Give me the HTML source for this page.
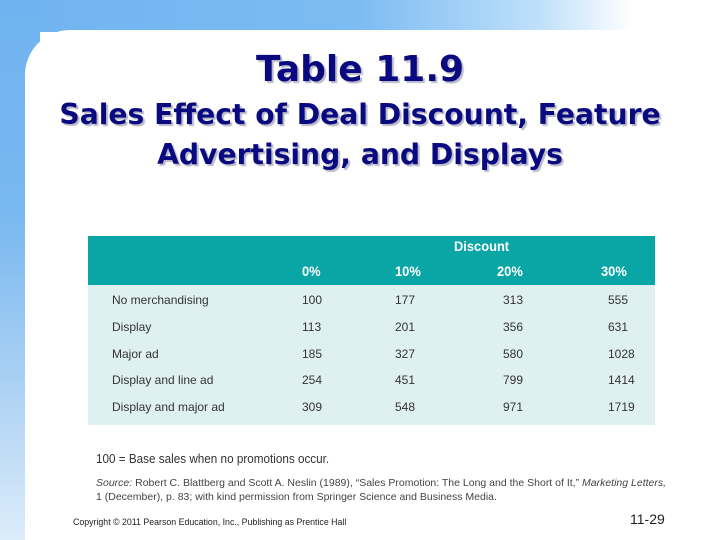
<!DOCTYPE html>
<html><head><meta charset="utf-8"><style>
body{margin:0;width:720px;height:540px;overflow:hidden;position:relative;background:#fff;font-family:"Liberation Sans",sans-serif}
.abs{position:absolute}
#topband{left:0;top:0;width:720px;height:32px;background:linear-gradient(90deg,#6fb3f0 0%,#7dbcf2 50%,#bfe0fa 75%,#fff 88%)}
#leftband{left:0;top:0;width:40px;height:540px;background:linear-gradient(180deg,#6fb3f0 0%,#79b8f0 40%,#a9d0f3 70%,#dcecfa 100%)}
#panel{left:25px;top:30px;width:695px;height:510px;background:#fff;border-top-left-radius:45px}
.title{left:0;width:720px;text-align:center;font-family:"DejaVu Sans",sans-serif;font-weight:bold;color:#0a0a80;text-shadow:2px 2px 1px #b8b8c8}
.t{font-family:"Liberation Sans",sans-serif;font-size:12px;color:#333;white-space:nowrap}
.s{transform:scaleX(0.9);transform-origin:0 0}
.h{font-family:"Liberation Sans",sans-serif;font-size:14px;color:#fff;font-weight:bold;transform:scaleX(0.92);transform-origin:0 0}
</style></head><body>
<div id="topband" class="abs"></div>
<div id="leftband" class="abs"></div>
<div id="panel" class="abs"></div>
<div class="abs title" style="top:49px;font-size:36px">Table 11.9</div>
<div class="abs title" style="top:95px;font-size:28.2px;line-height:40px">Sales Effect of Deal Discount, Feature<br>Advertising, and Displays</div>

<div class="abs" style="left:88px;top:236px;width:567px;height:49px;background:#0aa6a6"></div>
<div class="abs" style="left:88px;top:285px;width:567px;height:140px;background:#dff0f0"></div>
<div class="abs h" style="left:454px;top:238px">Discount</div>
<div class="abs h" style="left:302px;top:263px">0%</div>
<div class="abs h" style="left:395px;top:263px">10%</div>
<div class="abs h" style="left:497px;top:263px">20%</div>
<div class="abs h" style="left:601px;top:263px">30%</div>
<div id="rows"></div>

<div class="abs t s" style="left:96px;top:451px;font-size:13px">100 = Base sales when no promotions occur.</div>
<div class="abs t" style="left:96px;top:476px;font-size:10.5px;line-height:14px;color:#444"><i>Source:</i> Robert C. Blattberg and Scott A. Neslin (1989), “Sales Promotion: The Long and the Short of It,” <i>Marketing Letters,</i><br>1 (December), p. 83; with kind permission from Springer Science and Business Media.</div>
<div class="abs" style="left:73px;top:517px;font-size:8.8px;color:#222">Copyright © 2011 Pearson Education, Inc., Publishing as Prentice Hall</div>
<div class="abs" style="left:630px;top:511px;font-size:14px;color:#222">11-29</div>

<script>
const labels=["No merchandising","Display","Major ad","Display and line ad","Display and major ad"];
const v0=[100,113,185,254,309];
const v10=[177,201,327,451,548];
const v20=[313,356,580,799,971];
const v30=[555,631,1028,1414,1719];
const cols=[v0,v10,v20,v30];
const colX=[302,395,503,608];
const host=document.getElementById('rows');
labels.forEach((lab,i)=>{
  const y=293+i*26.8;
  const l=document.createElement('div');
  l.className='abs t';l.style.left='112px';l.style.top=y+'px';l.textContent=lab;
  
  
  host.appendChild(l);
  cols.forEach((c,j)=>{
    const d=document.createElement('div');
    d.className='abs t';d.style.left=colX[j]+'px';d.style.top=y+'px';d.textContent=c[i];
    
    
    host.appendChild(d);
  });
});
</script>
</body></html>
